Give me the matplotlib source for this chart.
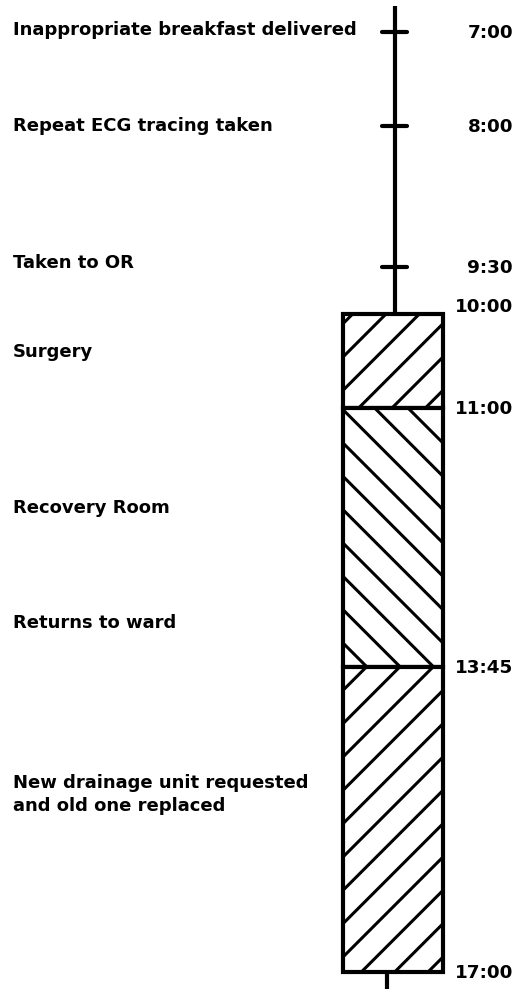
import matplotlib.pyplot as plt
from matplotlib.patches import Rectangle

plt.rcParams['font.family'] = ['DejaVu Sans']
plt.rcParams['hatch.linewidth'] = 1.1

# timeline events (hours of day)
tick_times = [7.0, 8.0, 9.5]
phase_starts = [10.0, 11.0, 13.75]
phase_ends = [11.0, 13.75, 17.0]
phase_hatch = ['//', '\\\\', '//']

time_labels = ['7:00', '8:00', '9:30', '10:00', '11:00', '13:45', '17:00']
time_label_hours = [7.0, 8.0, 9.5, 9.92, 11.0, 13.75, 17.0]

event_labels = ['Inappropriate breakfast delivered', 'Repeat ECG tracing taken',
                'Taken to OR', 'Surgery', 'Recovery Room', 'Returns to ward',
                'New drainage unit requested\nand old one replaced']
event_label_hours = [6.97, 7.99, 9.45, 10.39, 12.05, 13.28, 15.1]

fig = plt.figure(figsize=(2.625, 4.975), dpi=200)
ax = fig.add_axes([0, 0, 1, 1])
ax.set_xlim(0, 525)
ax.set_ylim(17.234, 6.649)
ax.axis('off')

line_x = 395
box_l, box_r = 343, 443

# main vertical line down to the box
ax.plot([line_x, line_x], [6.72, phase_starts[0]], color='black', lw=1.5, solid_capstyle='butt')
for t in tick_times:
    ax.plot([line_x - 13, line_x + 12], [t, t], color='black', lw=1.5, solid_capstyle='round')

for s, e, h in zip(phase_starts, phase_ends, phase_hatch):
    ax.add_patch(Rectangle((box_l, s), box_r - box_l, e - s, facecolor='white',
                           edgecolor='black', lw=1.5, hatch=h))

# small stub below the box
ax.plot([387, 387], [phase_ends[-1], 17.18], color='black', lw=1.5, solid_capstyle='butt')

for lab, h in zip(time_labels, time_label_hours):
    ax.text(513, h, lab, ha='right', va='center', fontsize=6.6, fontweight='bold')

for lab, h in zip(event_labels, event_label_hours):
    ax.text(13, h, lab, ha='left', va='center', fontsize=6.5, fontweight='bold',
            linespacing=1.38)

fig.savefig('out.png', dpi=200, facecolor='white')
